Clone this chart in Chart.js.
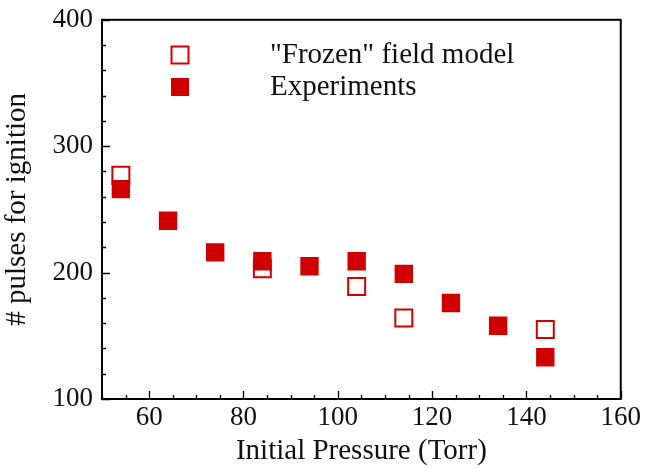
<!DOCTYPE html>
<html>
<head>
<meta charset="utf-8">
<script src="https://cdn.jsdelivr.net/npm/chart.js@4/dist/chart.umd.min.js"></script>
<style>
  html, body { margin: 0; padding: 0; background: #fff; }
  #wrap { width: 646px; height: 469px; }
</style>
</head>
<body>
<div id="wrap"><canvas id="c" width="646" height="469"></canvas></div>
<script>
// Initial pressure (Torr) and number of pulses needed for ignition
const expPressure = [54, 64, 74, 84, 94, 104, 114, 124, 134, 144];
const expPulses   = [266, 241, 216, 209, 205, 209, 199, 176, 158, 133];
const modelPressure = [54, 84, 104, 114, 144];
const modelPulses   = [277, 203, 189, 164, 155];

const xTicks = [60, 80, 100, 120, 140, 160];
const yTicks = [100, 200, 300, 400];

const RED = '#d10000';
const FONT = '"Liberation Serif", "Times New Roman", serif';

const toPoints = (xs, ys) => xs.map((x, i) => ({ x: x, y: ys[i] }));

// Box frame with inward major/minor ticks on the bottom and left sides
const framePlugin = {
  id: 'frame',
  afterDatasetsDraw(chart) {
    const { ctx, chartArea: a, scales: { x, y } } = chart;
    ctx.save();
    ctx.strokeStyle = '#000';
    ctx.lineWidth = 2;
    ctx.strokeRect(a.left, a.top, a.right - a.left, a.bottom - a.top);
    ctx.lineWidth = 1.3;
    ctx.beginPath();
    for (let v = 50; v <= 160; v += 5) {
      const px = Math.round(x.getPixelForValue(v)) + 0.5;
      const len = v % 20 === 0 ? 8 : 4;
      ctx.moveTo(px, a.bottom);
      ctx.lineTo(px, a.bottom - len);
    }
    for (let v = 100; v <= 400; v += 20) {
      const py = Math.round(y.getPixelForValue(v)) + 0.5;
      const len = v % 100 === 0 ? 8 : 4;
      ctx.moveTo(a.left, py);
      ctx.lineTo(a.left + len, py);
    }
    ctx.stroke();
    ctx.restore();
  }
};

// Legend placed inside the plot area
const legendPlugin = {
  id: 'insideLegend',
  afterDraw(chart) {
    const { ctx } = chart;
    const items = [
      { label: '"Frozen" field model', filled: false, cy: 55 },
      { label: 'Experiments', filled: true, cy: 87 }
    ];
    ctx.save();
    ctx.font = '29px ' + FONT;
    ctx.textBaseline = 'middle';
    items.forEach(it => {
      const s = 17;
      if (it.filled) {
        ctx.fillStyle = RED;
        ctx.fillRect(180 - 9, it.cy - 9, 18, 18);
      } else {
        ctx.fillStyle = '#fff';
        ctx.fillRect(180 - s / 2, it.cy - s / 2, s, s);
        ctx.strokeStyle = RED;
        ctx.lineWidth = 2;
        ctx.strokeRect(180 - s / 2, it.cy - s / 2, s, s);
      }
      ctx.fillStyle = '#111';
      ctx.fillText(it.label, 270, it.cy);
    });
    ctx.restore();
  }
};

new Chart(document.getElementById('c'), {
  type: 'scatter',
  data: {
    datasets: [
      {
        label: 'Experiments',
        data: toPoints(expPressure, expPulses),
        pointStyle: 'rect',
        pointRadius: 13,
        pointHoverRadius: 13,
        backgroundColor: RED,
        borderColor: RED,
        borderWidth: 0
      },
      {
        label: '"Frozen" field model',
        data: toPoints(modelPressure, modelPulses),
        pointStyle: 'rect',
        pointRadius: 12,
        pointHoverRadius: 12,
        backgroundColor: '#fff',
        borderColor: RED,
        borderWidth: 2
      }
    ]
  },
  options: {
    responsive: false,
    animation: false,
    events: [],
    layout: { padding: { top: 19, right: 24, left: 0, bottom: 0 } },
    plugins: { legend: { display: false }, tooltip: { enabled: false } },
    scales: {
      x: {
        type: 'linear',
        min: 50,
        max: 160,
        afterBuildTicks(s) { s.ticks = xTicks.map(v => ({ value: v })); },
        afterFit(s) { s.height = 70; },
        grid: { display: false, drawTicks: false },
        border: { display: false },
        ticks: {
          color: '#111',
          font: { family: FONT, size: 27, lineHeight: 1 },
          padding: 5,
          maxRotation: 0
        },
        title: {
          display: true,
          text: 'Initial Pressure (Torr)',
          color: '#111',
          font: { family: FONT, size: 29 },
          padding: { top: -1, bottom: 0 }
        }
      },
      y: {
        type: 'linear',
        min: 100,
        max: 400,
        afterBuildTicks(s) { s.ticks = yTicks.map(v => ({ value: v })); },
        afterFit(s) { s.width = 102; },
        grid: { display: false, drawTicks: false },
        border: { display: false },
        ticks: {
          color: '#111',
          font: { family: FONT, size: 27, lineHeight: 0.8 },
          padding: 9
        },
        title: {
          display: true,
          text: '# pulses for ignition',
          color: '#111',
          font: { family: FONT, size: 29 },
          padding: { top: 0, bottom: 4 }
        }
      }
    }
  },
  plugins: [framePlugin, legendPlugin]
});
</script>
</body>
</html>
